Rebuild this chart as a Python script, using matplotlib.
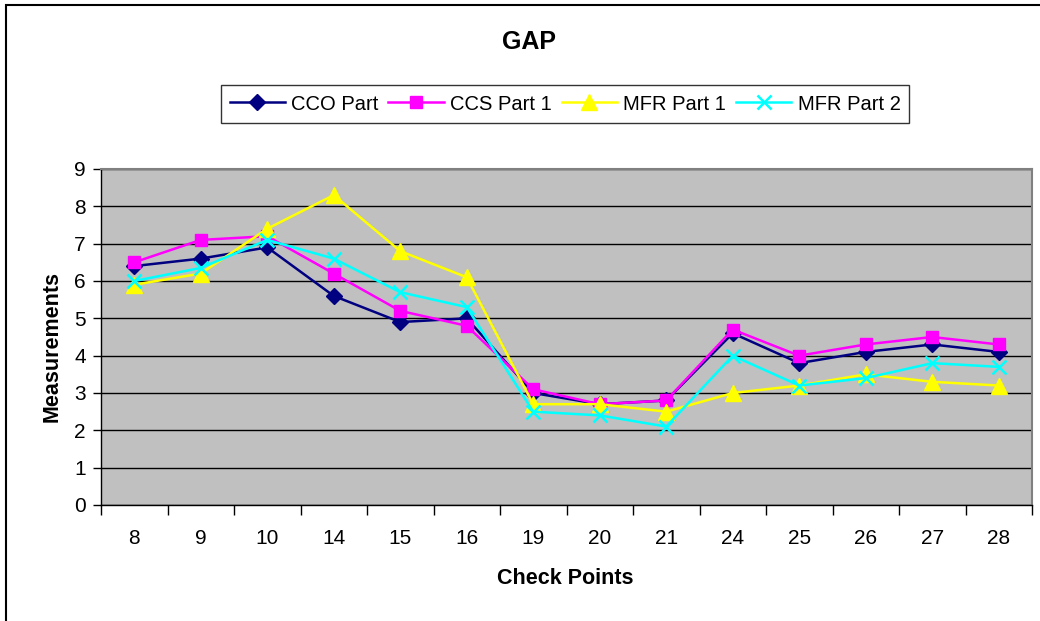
import matplotlib.pyplot as plt
import matplotlib.patches as patches

plt.rcParams['font.family'] = ['Liberation Sans', 'DejaVu Sans']

# data
check_points = ['8', '9', '10', '14', '15', '16', '19', '20', '21', '24', '25', '26', '27', '28']
cco_part = [6.4, 6.6, 6.9, 5.6, 4.9, 5.0, 3.0, 2.7, 2.8, 4.6, 3.8, 4.1, 4.3, 4.1]
ccs_part1 = [6.5, 7.1, 7.2, 6.2, 5.2, 4.8, 3.1, 2.7, 2.8, 4.7, 4.0, 4.3, 4.5, 4.3]
mfr_part1 = [5.9, 6.2, 7.4, 8.3, 6.8, 6.1, 2.7, 2.7, 2.5, 3.0, 3.2, 3.5, 3.3, 3.2]
mfr_part2 = [6.0, 6.35, 7.1, 6.6, 5.7, 5.3, 2.5, 2.4, 2.1, 4.0, 3.2, 3.4, 3.8, 3.7]

fig = plt.figure(figsize=(10.4, 6.21), dpi=100)
ax = fig.add_axes([101/1040, 1 - 505/621, (1032 - 101)/1040, (505 - 169)/621])

x = list(range(len(check_points)))
ax.plot(x, cco_part, color='#000080', marker='D', markersize=8, lw=1.8, label='CCO Part', zorder=3)
ax.plot(x, ccs_part1, color='#FF00FF', marker='s', markersize=9, lw=1.8, label='CCS Part 1', zorder=3)
ax.plot(x, mfr_part1, color='#FFFF00', marker='^', markersize=11, lw=1.8, label='MFR Part 1', zorder=3)
ax.plot(x, mfr_part2, color='#00FFFF', marker='x', markersize=10, mew=1.8, lw=1.8, label='MFR Part 2', zorder=3)

ax.set_facecolor('#C0C0C0')
ax.set_xlim(-0.5, len(check_points) - 0.5)
ax.set_ylim(0, 9)
ax.set_yticks(range(10))
ax.grid(axis='y', color='black', lw=1)
ax.set_axisbelow(True)

# category labels centred, tick marks between categories
ax.set_xticks(x)
ax.set_xticklabels(check_points)
ax.tick_params(axis='x', length=0, labelsize=15, pad=17)
ax.set_xticks([i - 0.5 for i in range(len(check_points) + 1)], minor=True)
ax.tick_params(axis='x', which='minor', length=7, width=1, color='black')
ax.tick_params(axis='y', length=6, width=1, labelsize=15, pad=5)

for side in ['top', 'right']:
    ax.spines[side].set_color('#808080')
    ax.spines[side].set_linewidth(1.5)
for side in ['left', 'bottom']:
    ax.spines[side].set_color('black')
    ax.spines[side].set_linewidth(1)

fig.text(565/1040, 1 - 578/621, 'Check Points', fontsize=15.5, fontweight='bold',
         ha='center', va='center')
fig.text(52/1040, 1 - 346/621, 'Measurements', fontsize=15.5, fontweight='bold',
         ha='center', va='center', rotation=90)

fig.text(529/1040, 1 - 42/621, 'GAP', fontsize=18, fontweight='bold', ha='center', va='center')

leg = fig.legend(loc='center', bbox_to_anchor=(565/1040, 1 - 104/621), ncol=4,
                 fontsize=14.5, frameon=True, fancybox=False, edgecolor='black',
                 handlelength=2.75, columnspacing=0.5, handletextpad=0.3,
                 borderpad=0.45, borderaxespad=0)
leg.get_frame().set_linewidth(1)

# outer chart border
fig.patches.append(patches.Rectangle((6/1040, -0.1), 1.1, 1 - 5/621 + 0.1,
                                     transform=fig.transFigure, fill=False,
                                     edgecolor='black', lw=1.5))

plt.savefig('out.png', dpi=100)
